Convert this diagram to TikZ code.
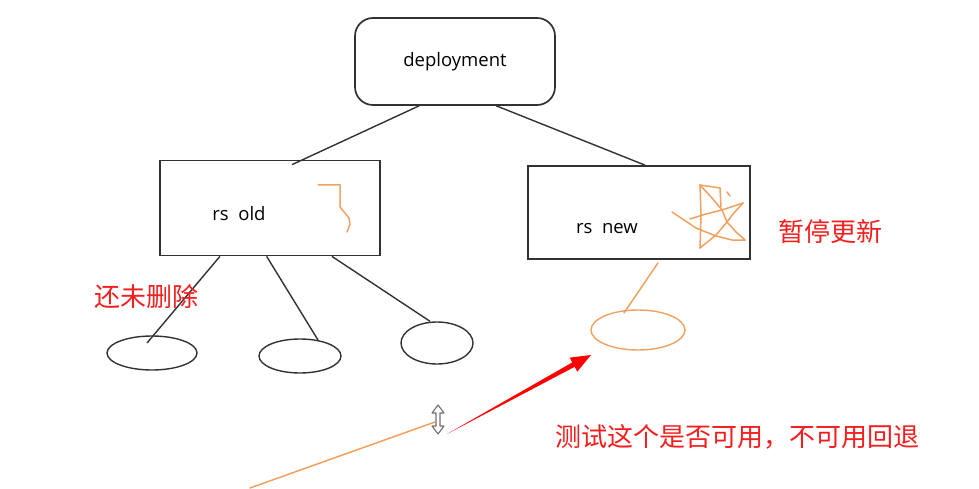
\documentclass[tikz,border=0pt]{standalone}
\usepackage{fontspec}
\setmainfont{Open Sans}
\newfontfamily\cjk{Noto Sans CJK SC}
\usepackage{xcolor}
\usetikzlibrary{shapes.geometric,arrows.meta,positioning,calc}

\definecolor{linegray}{RGB}{50,50,50}
\definecolor{pen}{RGB}{240,160,95}
\definecolor{note}{RGB}{245,30,30}

\begin{document}
\begin{tikzpicture}[
  x=1pt,y=-1pt,
  font=\fontsize{18.5}{22}\selectfont,
  box/.style={draw=linegray,line width=1.7pt,minimum width=220pt,minimum height=95pt,inner sep=0pt},
  pod/.style={draw=linegray,line width=1.4pt,ellipse,inner sep=0pt},
  link/.style={draw=linegray,line width=1.4pt},
  scribble/.style={draw=pen,line width=1.5pt,line join=round,line cap=round},
  remark/.style={text=note,font=\cjk\fontsize{26}{30}\selectfont,inner sep=0pt},
]
\useasboundingbox (0,0) rectangle (979,489);
% deployment and replica sets
\node[box,rounded corners=18pt,minimum width=200pt,minimum height=87pt] (dep) at (455,61.5) {deployment};
\node[box,label={[xshift=-31pt,yshift=-6pt]center:rs\ \ old}] (old) at (270,208) {};
\node[box,minimum width=222pt,minimum height=93pt,label={[xshift=-32pt,yshift=-16pt]center:rs\ \ new}] (new) at (639,212.5) {};
\draw[link] (dep.231) -- ([shift={(22,5)}]old.north);
\draw[link] (dep.313) -- ([xshift=6pt]new.north);
% pods of the old set
\node[pod,minimum width=90pt,minimum height=34pt] (p1) at (152,353) {};
\node[pod,minimum width=82pt,minimum height=34pt] (p2) at (300,356) {};
\node[pod,minimum width=72pt,minimum height=42pt] (p3) at (437,343) {};
\draw[link] (old.224) -- ([shift={(-5,-10)}]p1.center);
\draw[link] (old.266) -- ([shift={(18,-16)}]p2.center);
\draw[link] (old.322.7) -- ([xshift=-7pt]p3.north);
% new pod
\node[pod,draw=pen,minimum width=94pt,minimum height=40pt] (p4) at (638,330) {};
\draw[scribble] ([shift={(19,3)}]new.south) -- ([shift={(-14,-17)}]p4.center);
% pen marks
\draw[scribble] (318,185) -- (340,185) -- (340,207) -- (349,218) -- (350,224) -- (347,232);
\draw[scribble] (700,185) -- (701,215) -- (700,248);
\draw[scribble] (700,185) -- (720,188) -- (721,207);
\draw[scribble] (727,192) -- (730,196);
\draw[scribble] (700,185) -- (712,198) -- (722,210) -- (727,222) -- (736,232) -- (745,240);
\draw[scribble] (672,212) -- (684,220) -- (696,228) -- (716,236) -- (732,240) -- (745,240);
\draw[scribble] (690,219) -- (706,214) -- (722,210) -- (743,203);
\draw[scribble] (743,203) -- (733,214) -- (727,222) -- (716,235) -- (700,248);
% notes
\node[remark] (keep) at (146,297) {还未删除};
\node[remark] (pause) at (830,232) {暂停更新};
\node[remark] (test) at (737,437) {测试这个是否可用，不可用回退};
% cursor and arrow
\coordinate (cur) at (438,420);
\coordinate (tail) at (250,488);
\draw[scribble] (tail) -- ([shift={(-3,2)}]cur);
\draw[linegray!70,fill=white,line width=1.1pt,line join=round]
  (438,405) -- (444,413) -- (440,413) -- (440,426) -- (444,426) -- (438,434)
  -- (432,426) -- (436,426) -- (436,413) -- (432,413) -- cycle;
\coordinate (as) at ([shift={(9,14)}]cur);
\coordinate (ae) at ([shift={(-47,25)}]p4.center);
\coordinate (ah) at ($(ae)!20pt!(as)$);
\fill[red] (as) -- ($(ah)!2.5pt!90:(ae)$) -- ($(ah)!8pt!90:(ae)$) -- (ae)
  -- ($(ah)!8pt!-90:(ae)$) -- ($(ah)!2.5pt!-90:(ae)$) -- cycle;
\end{tikzpicture}
\end{document}
